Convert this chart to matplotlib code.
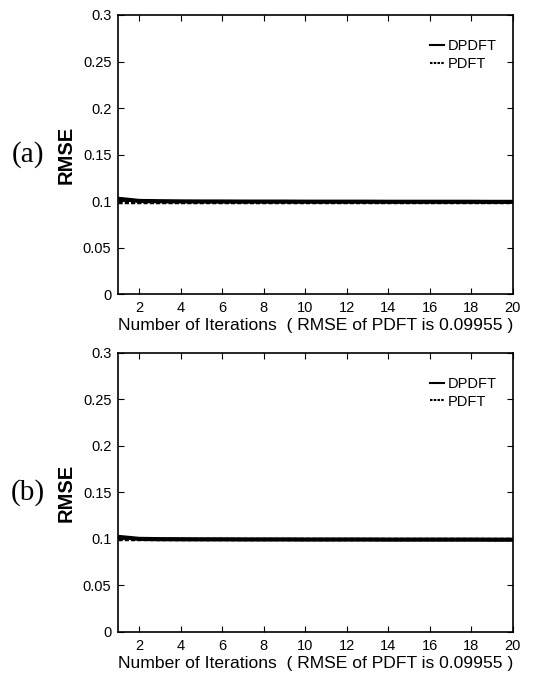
import numpy as np
import matplotlib.pyplot as plt

# Data
iterations = np.arange(1, 21)
dpdft_a = [0.1025, 0.1002, 0.0999, 0.0997, 0.0996, 0.0996, 0.0995, 0.0995, 0.0995, 0.0994,
           0.0994, 0.0994, 0.0994, 0.0993, 0.0993, 0.0993, 0.0993, 0.0993, 0.0992, 0.0992]
pdft_a = [0.09955] * 20
dpdft_b = [0.1022, 0.1001, 0.0998, 0.0997, 0.0996, 0.0996, 0.0995, 0.0995, 0.0995, 0.0994,
           0.0994, 0.0994, 0.0994, 0.0993, 0.0993, 0.0993, 0.0993, 0.0993, 0.0992, 0.0992]
pdft_b = [0.09955] * 20
panel_labels = ["(a)", "(b)"]
yticks = [0, 0.05, 0.1, 0.15, 0.2, 0.25, 0.3]
ytick_labels = ["0", "0.05", "0.1", "0.15", "0.2", "0.25", "0.3"]
xticks = [2, 4, 6, 8, 10, 12, 14, 16, 18, 20]
xlabel = "Number of Iterations  ( RMSE of PDFT is 0.09955 )"

plt.rcParams['font.family'] = ['Liberation Sans', 'DejaVu Sans']

fig = plt.figure(figsize=(5.43, 6.81), dpi=100)
boxes = [[0.218, 0.568, 0.726, 0.410], [0.218, 0.072, 0.726, 0.4097]]
series = [(dpdft_a, pdft_a), (dpdft_b, pdft_b)]

for box, (dp, pd), lab in zip(boxes, series, panel_labels):
    ax = fig.add_axes(box)
    ax.plot(iterations, dp, color='black', linewidth=3.0, label='DPDFT')
    ax.plot(iterations, pd, color='black', linewidth=2.5, linestyle=(0, (1.2, 0.6)), label='PDFT')
    ax.set_xlim(1, 20)
    ax.set_ylim(0, 0.3)
    ax.set_xticks(xticks)
    ax.set_yticks(yticks)
    ax.set_yticklabels(ytick_labels)
    ax.tick_params(direction='in', top=True, right=True, labelsize=10.5, length=4, width=0.8,
                   pad=5)
    ax.set_xlabel(xlabel, fontsize=12.6, labelpad=2)
    ax.set_ylabel("RMSE", fontsize=14.5, fontweight='bold', labelpad=5)
    for s in ax.spines.values():
        s.set_linewidth(1.2)
    leg = ax.legend(loc='upper right', bbox_to_anchor=(0.975, 0.935), frameon=False,
                    fontsize=10.5, handlelength=0.9, handletextpad=0.3,
                    labelspacing=0.25, borderaxespad=0)
    for h in leg.get_lines():
        h.set_linewidth(1.5)
    ax.text(-0.23, 0.5, lab, transform=ax.transAxes, fontsize=21,
            family=['Liberation Serif', 'DejaVu Serif'], ha='center', va='center')

plt.savefig("out.png", dpi=100)
